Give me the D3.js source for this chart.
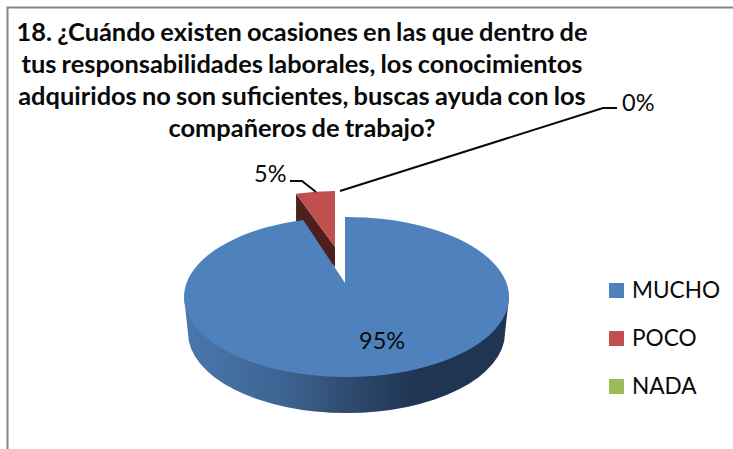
<!DOCTYPE html>
<html lang="es">
<head>
<meta charset="UTF-8">
<script src="https://d3js.org/d3.v7.min.js"></script>
<style>
    html, body { margin: 0; padding: 0; background: #fff; overflow: hidden; }
    svg { display: block; }
    text { font-family: Lato, "Open Sans", sans-serif; fill: #0a0a0a; }
    .title { font-size: 25.4px; font-weight: 700; text-anchor: middle; word-spacing: -1px; }
    .label { font-size: 23.5px; }
    .legend { font-size: 22.6px; }
</style>
</head>
<body>
<svg id="chart" width="733" height="449"></svg>
<script>
const titleLines = [
    "18. ¿Cuándo existen ocasiones en las que dentro de",
    "tus responsabilidades laborales, los conocimientos",
    "adquiridos no son suficientes, buscas ayuda con los",
    "compañeros de trabajo?"
];
const categories = ["MUCHO", "POCO", "NADA"];
const values = [95, 5, 0];
const colors = ["#4f81bd", "#c0504d", "#9bbb59"];

const svg = d3.select("#chart");

// frame, only top and left show in the picture
svg.append("path")
    .attr("d", "M733,7.5H7.5V449")
    .attr("fill", "none")
    .attr("stroke", "#868686")
    .attr("stroke-width", 2);

svg.selectAll("text.title").data(titleLines).join("text")
    .attr("class", "title")
    .attr("x", 302)
    .attr("y", (d, i) => 41 + i * 32)
    .text(d => d);

const slices = d3.pie().sort(null).value(d => d)(values);

// point on a flattened pie rim
const rim = (g, a) => [g.cx + g.rx * Math.sin(a), g.cy - g.ry * Math.cos(a)];

const defs = svg.append("defs");
const wall = defs.append("linearGradient").attr("id", "wall");
[[0, "#4a78ad"], [0.3, "#3d6492"], [0.55, "#2c4669"], [0.72, "#1f3552"], [1, "#1f3552"]].forEach(s => {
    wall.append("stop").attr("offset", s[0]).attr("stop-color", s[1]);
});

const blue = { cx: 346.5, cy: 297, rx: 162.5, ry: 80, apexX: 345, apexY: 283, depth: 36 };
const red = { cx: 335, cy: 247, rx: 126, ry: 56, depth: 20 };

// blue outer wall
svg.append("path")
    .attr("d", `M${blue.cx - blue.rx},${blue.cy}
        L${blue.cx - blue.rx + 4},${blue.cy + blue.depth}
        A${blue.rx - 4},${blue.ry} 0 0 0 ${blue.cx + blue.rx - 4},${blue.cy + blue.depth}
        L${blue.cx + blue.rx},${blue.cy}Z`)
    .attr("fill", "url(#wall)");

// red slice, the dark cut side sits below the top face
const r0 = rim(red, slices[1].startAngle);
const r1 = rim(red, slices[1].endAngle);
svg.append("path")
    .attr("d", `M${r0}L${red.cx},${red.cy}V${red.cy + red.depth}L${r0[0]},${r0[1] + 32}Z`)
    .attr("fill", "#4d1f1d");
svg.append("path")
    .attr("d", `M${red.cx},${red.cy}L${r0}A${red.rx},${red.ry} 0 0 1 ${r1}Z`)
    .attr("fill", colors[1]);

// blue top face, the cut edge is pulled in a bit by the 3D perspective
const persp = 0.85;
const blueEnd = Math.atan2(persp * Math.sin(slices[0].endAngle), Math.cos(slices[0].endAngle));
const b0 = rim(blue, slices[0].startAngle);
const b1 = rim(blue, blueEnd);
svg.append("path")
    .attr("d", `M${blue.apexX},${blue.apexY}L${blue.apexX},${b0[1]}A${blue.rx},${blue.ry} 0 1 1 ${b1}Z`)
    .attr("fill", colors[0]);

// leader lines
svg.selectAll("path.leader").data([
    [[290, 181], [302, 181], [316, 192]],
    [[340, 191], [603, 108], [617, 108]]
]).join("path")
    .attr("class", "leader")
    .attr("d", d3.line())
    .attr("fill", "none")
    .attr("stroke", "#0a0a0a")
    .attr("stroke-width", 2);

// data labels
const labelPos = [[359, 349], [254, 182], [622, 111]];
svg.selectAll("text.label").data(values).join("text")
    .attr("class", "label")
    .attr("x", (d, i) => labelPos[i][0])
    .attr("y", (d, i) => labelPos[i][1])
    .text(d => d + "%");

// legend
const legendY = d3.scalePoint().domain(categories).range([283, 379]);
const legend = svg.selectAll("g.item").data(categories).join("g")
    .attr("class", "item")
    .attr("transform", d => `translate(609,${legendY(d)})`);
legend.append("rect")
    .attr("width", 15)
    .attr("height", 15)
    .attr("fill", (d, i) => colors[i]);
legend.append("text")
    .attr("class", "legend")
    .attr("x", 23)
    .attr("y", 15)
    .text(d => d);
</script>
</body>
</html>
